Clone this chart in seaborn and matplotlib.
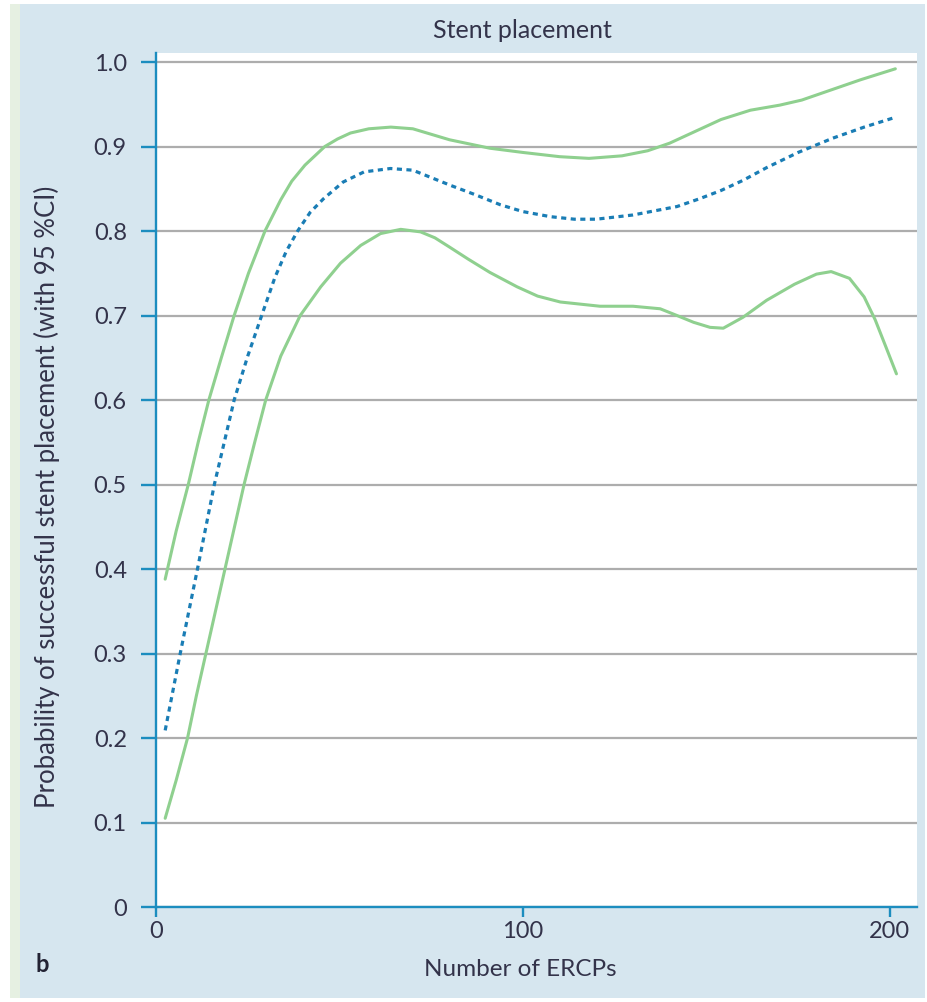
import numpy as np
import pandas as pd
import seaborn as sns
import matplotlib.pyplot as plt
from matplotlib.patches import Rectangle

# values
ercp_upper = [2.5, 5.5, 8.8, 11.5, 14.4, 17.8, 21.3, 25.2, 29.7, 34, 37, 40.6, 46, 49.5, 53, 58, 64, 70, 80,
              91, 100, 110, 118, 127, 134, 140, 147, 154, 162, 170, 176, 184, 192, 201.5]
prob_upper = [0.388, 0.445, 0.50, 0.55, 0.60, 0.65, 0.70, 0.75, 0.80, 0.837, 0.859, 0.878, 0.90, 0.909, 0.916, 0.921, 0.923, 0.921, 0.908,
              0.898, 0.893, 0.888, 0.886, 0.889, 0.895, 0.904, 0.918, 0.932, 0.943, 0.949, 0.955, 0.967, 0.979, 0.992]

ercp_mean = [2.5, 6.6, 11.3, 15.9, 21.3, 25, 28.8, 32.4, 35.5, 38.6, 42, 45.6, 51, 56.7, 63.9, 70, 80.3, 87,
             93.9, 100, 107.5, 114, 120, 130, 142, 148, 154, 160, 166.4, 175, 184.5, 193, 201.8]
prob_mean = [0.209, 0.30, 0.40, 0.50, 0.60, 0.652, 0.70, 0.745, 0.776, 0.80, 0.822, 0.838, 0.858, 0.870, 0.874, 0.872, 0.854, 0.843,
             0.831, 0.823, 0.817, 0.814, 0.814, 0.819, 0.829, 0.838, 0.848, 0.860, 0.875, 0.893, 0.910, 0.923, 0.935]

ercp_lower = [2.5, 5.5, 8.6, 11, 13.6, 16.2, 18.8, 21.4, 24.0, 26.9, 29.9, 34, 39.3, 44.9, 50.3, 55.8, 61.2, 66.7, 72.1,
              76, 80, 85, 91, 98.4, 104, 110.2, 121, 130, 137.4, 142, 146.5, 151, 154.6, 160, 166.4, 174, 180, 184,
              189, 193, 196, 199, 201.8]
prob_lower = [0.105, 0.15, 0.20, 0.25, 0.30, 0.35, 0.40, 0.45, 0.50, 0.55, 0.60, 0.652, 0.70, 0.734, 0.762, 0.783, 0.797, 0.802, 0.799,
              0.792, 0.781, 0.767, 0.751, 0.734, 0.723, 0.716, 0.711, 0.711, 0.708, 0.700, 0.692, 0.686, 0.685, 0.698, 0.718, 0.737, 0.749, 0.752,
              0.744, 0.722, 0.695, 0.662, 0.631]

y_ticks = [0, 0.1, 0.2, 0.3, 0.4, 0.5, 0.6, 0.7, 0.8, 0.9, 1.0]
y_tick_labels = ['0', '0.1', '0.2', '0.3', '0.4', '0.5', '0.6', '0.7', '0.8', '0.9', '1.0']
x_ticks = [0, 100, 200]

PANEL = '#d6e6ef'
STRIP = '#e6f0e2'
BLUE = '#1c8dbf'
GREEN = '#8fd08f'
DOTS = '#1a7db5'
GRID = '#adadad'
TXT = '#33334a'

sns.set_style('ticks')
plt.rcParams['font.family'] = ['Lato', 'DejaVu Sans']

W, H = 928, 1002
fig = plt.figure(figsize=(W / 100, H / 100), dpi=100)
fig.patch.set_facecolor('white')
fig.patches.append(Rectangle((10 / W, 4 / H), 10 / W, 994 / H, transform=fig.transFigure,
                             facecolor=STRIP, edgecolor='none', zorder=-2))
fig.patches.append(Rectangle((20 / W, 4 / H), 905 / W, 994 / H, transform=fig.transFigure,
                             facecolor=PANEL, edgecolor='none', zorder=-2))

ax = fig.add_axes([156 / W, 95 / H, 761 / W, 854 / H])
ax.set_facecolor('white')

sns.lineplot(x=ercp_upper, y=prob_upper, ax=ax, color=GREEN, lw=2.2, sort=False)
sns.lineplot(x=ercp_lower, y=prob_lower, ax=ax, color=GREEN, lw=2.2, sort=False)
sns.lineplot(x=ercp_mean, y=prob_mean, ax=ax, color=DOTS, lw=2.3, sort=False, linestyle=(0, (1.6, 1.4)))

ax.set_xlim(0, 207.4)
ax.set_ylim(0, 1.0107)
ax.set_yticks(y_ticks)
ax.set_yticklabels(y_tick_labels)
ax.set_xticks(x_ticks)
ax.yaxis.grid(True, color=GRID, lw=1.6)
ax.set_axisbelow(True)

sns.despine(ax=ax)
for s in ['left', 'bottom']:
    ax.spines[s].set_color(BLUE)
    ax.spines[s].set_linewidth(1.7)
ax.tick_params(axis='y', length=11, width=1.7, color=BLUE, pad=10, labelsize=17, labelcolor=TXT)
ax.tick_params(axis='x', length=7, width=1.7, color=BLUE, pad=3, labelsize=17, labelcolor=TXT)
ax.set_xlabel('')
ax.set_ylabel('')

fig.text(522 / W, 1 - 30 / H, 'Stent placement', ha='center', va='center', fontsize=18, color=TXT)
fig.text(520 / W, 1 - 970 / H, 'Number of ERCPs', ha='center', va='center', fontsize=17.5, color=TXT)
fig.text(47 / W, 1 - 497 / H, 'Probability of successful stent placement (with 95 %CI)',
         ha='center', va='center', rotation=90, fontsize=18.5, color=TXT)
fig.text(42 / W, 1 - 965 / H, 'b', ha='center', va='center', fontsize=17, fontweight='bold', color='#222233')

fig.savefig('out.png', dpi=100, facecolor=fig.get_facecolor())
